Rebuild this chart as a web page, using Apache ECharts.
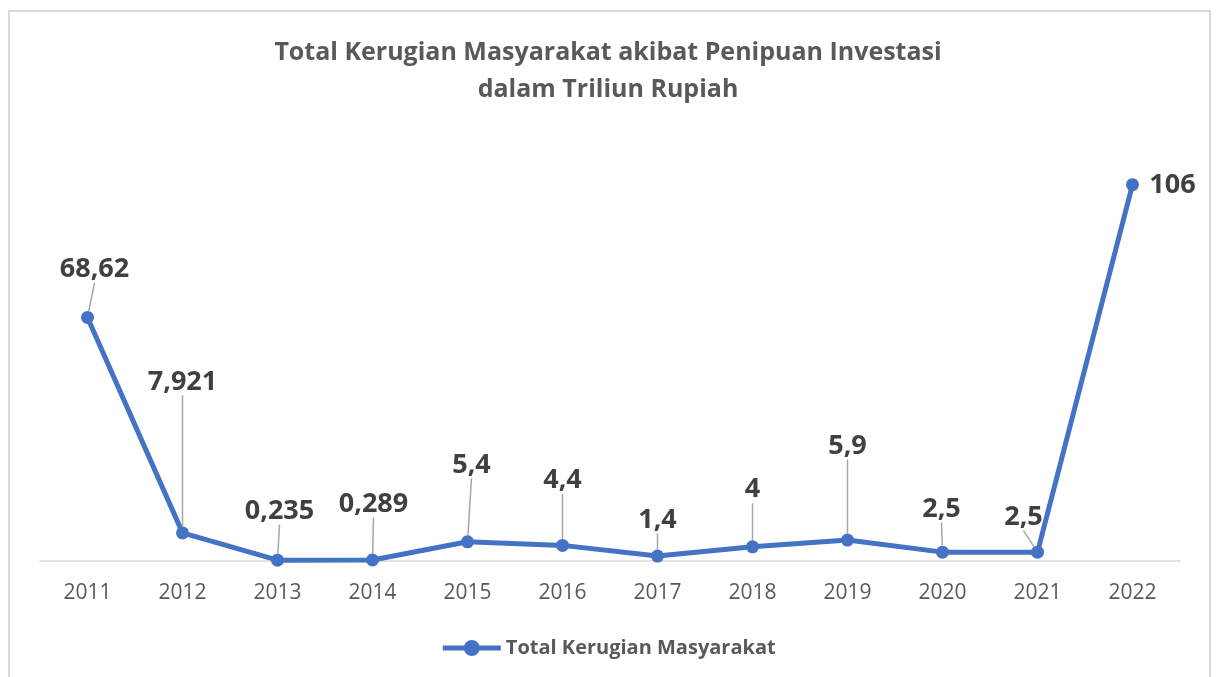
<!DOCTYPE html>
<html>
<head>
<meta charset="utf-8">
<script src="https://cdn.jsdelivr.net/npm/echarts@6/dist/echarts.min.js"></script>
<style>
  html, body { margin: 0; padding: 0; background: #fff; }
  #chart { width: 1216px; height: 677px; }
</style>
</head>
<body>
<div id="chart"></div>
<script>
const years = ['2011', '2012', '2013', '2014', '2015', '2016',
  '2017', '2018', '2019', '2020', '2021', '2022'];
const losses = [68.62, 7.921, 0.235, 0.289, 5.4, 4.4, 1.4, 4, 5.9, 2.5, 2.5, 106];
const seriesName = 'Total Kerugian Masyarakat';
const titleText = 'Total Kerugian Masyarakat akibat Penipuan Investasi\ndalam Triliun Rupiah';

// label offsets (px) from the point, like the moved Excel labels
const labelShift = [
  [7, -48], [0, -151], [2, -49], [1, -56], [4, -77], [0, -65],
  [0, -36], [0, -57], [0, -94], [-1, -43], [-14, -35], [40, 1]
];

const chart = echarts.init(document.getElementById('chart'));

const option = {
  backgroundColor: '#fff',
  animation: false,
  textStyle: { fontFamily: 'Open Sans' },
  graphic: [{
    type: 'rect',
    shape: { x: 9, y: 11, width: 1201, height: 700 },
    style: { fill: 'none', stroke: '#d9d9d9', lineWidth: 2 },
    silent: true
  }],
  title: {
    text: titleText,
    left: 'center',
    top: 29,
    textStyle: {
      fontFamily: 'Open Sans',
      fontSize: 25,
      fontWeight: 'bold',
      color: '#595959',
      lineHeight: 37
    }
  },
  legend: {
    bottom: 14,
    left: 'center',
    itemWidth: 58,
    itemHeight: 20,
    lineStyle: { width: 5 },
    textStyle: { fontSize: 20, fontWeight: 'bold', color: '#595959' },
    data: [seriesName]
  },
  grid: { left: 40, right: 36, top: 135, bottom: 116 },
  xAxis: {
    type: 'category',
    data: years,
    boundaryGap: true,
    axisLine: { lineStyle: { color: '#d9d9d9', width: 1.5 } },
    axisTick: { show: false },
    axisLabel: { color: '#595959', fontSize: 21, margin: 22 }
  },
  yAxis: {
    type: 'value',
    min: 0,
    max: 120,
    show: false,
    splitLine: { show: false }
  },
  series: [{
    name: seriesName,
    type: 'line',
    data: losses.map((v, i) => i === losses.length - 1
      ? { value: v, labelLine: { show: false } }
      : v),
    symbol: 'circle',
    symbolSize: 13,
    lineStyle: { color: '#4472C4', width: 5 },
    itemStyle: { color: '#4472C4' },
    label: {
      show: true,
      position: 'inside',
      fontSize: 27,
      fontWeight: 'bold',
      color: '#404040',
      formatter: p => String(p.value).replace('.', ',')
    },
    labelLine: {
      show: true,
      lineStyle: { color: '#a6a6a6', width: 1.5 }
    },
    labelLayout: p => ({
      dx: labelShift[p.dataIndex][0],
      dy: labelShift[p.dataIndex][1]
    })
  }]
};

chart.setOption(option);
</script>
</body>
</html>
